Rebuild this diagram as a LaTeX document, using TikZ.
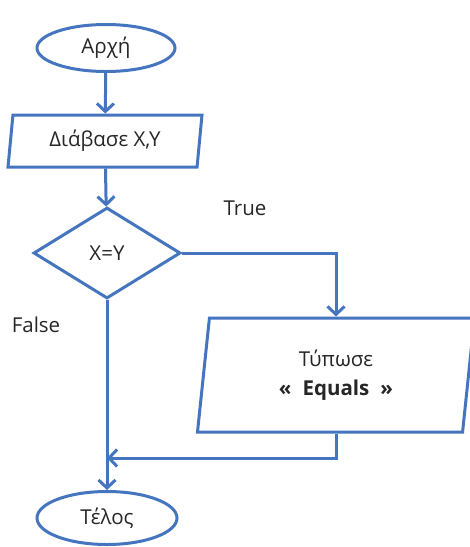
\documentclass[tikz,border=0pt]{standalone}
\usepackage{fontspec}
\setmainfont{Open Sans}
\usepackage{tikz}
\usepackage{xcolor}
\usetikzlibrary{arrows.meta,positioning,shapes.geometric,calc}
\definecolor{flowblue}{RGB}{70,117,192}

\begin{document}
\begin{tikzpicture}[
  x=1pt,y=-1pt,
  every node/.style={font=\fontsize{20.5}{24}\selectfont,text=black!85},
  term/.style={ellipse,draw=flowblue,line width=3pt,inner sep=0pt},
  io/.style={trapezium,trapezium left angle=77,trapezium right angle=103,
             trapezium stretches body,draw=flowblue,line width=3pt,inner sep=0pt},
  cond/.style={diamond,draw=flowblue,line width=3pt,inner sep=0pt},
  flow/.style={-{Straight Barb[length=8pt,width=17pt,line width=3pt]},
               draw=flowblue,line width=3pt},
]
\useasboundingbox (0,0) rectangle (470,547);
% ---- nodes of the main column ----
\node[term,minimum width=138,minimum height=47] (start) at (106,48)  {Αρχή};
\node[io,minimum width=194,minimum height=52]   (read)  at (105,141) {Διάβασε X,Y};
\node[cond,minimum width=147,minimum height=91] (test)  at (107,253) {X=Y};
\node[term,minimum width=140,minimum height=53] (stop)  at (107,518) {Τέλος};
% ---- the True branch ----
\node[io,trapezium left angle=76.7,trapezium right angle=103.3,
      minimum width=277,minimum height=114,align=center] (print) at (336,375)
      {Τύπωσε\\[5pt]\textbf{«\; Equals \;»}};
\coordinate (join) at (107,458);
% ---- labels of the two branches ----
\node (truelab)  at (245,208) {True};
\node (falselab) at (36,325)  {False};
% ---- connectors ----
\draw[flow] (start) -- (read);
\draw[flow] (read) -- (test);
\draw[flow] (test.east) -| (print.north);
\draw[flow] (print.south) |- (join);
\draw[flow] (test.south) -- (stop.north);
\end{tikzpicture}
\end{document}
